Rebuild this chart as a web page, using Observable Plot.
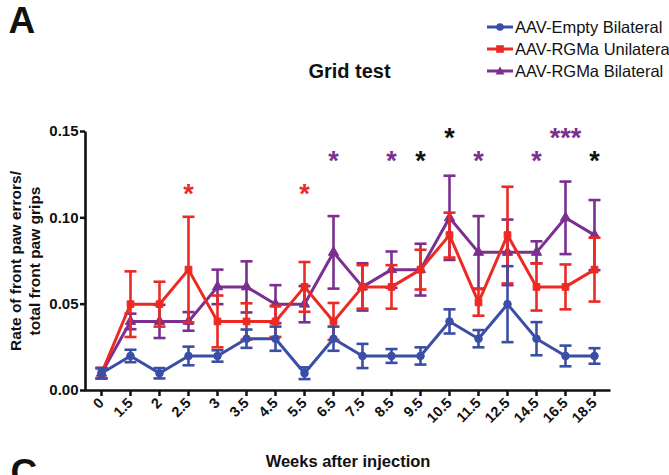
<!DOCTYPE html>
<html><head><meta charset="utf-8">
<script src="https://cdn.jsdelivr.net/npm/d3@7"></script>
<script src="https://cdn.jsdelivr.net/npm/@observablehq/plot@0.6"></script>
<style>
body{margin:0;background:#fff;width:669px;height:475px;overflow:hidden;font-family:"Liberation Sans",Arial,Helvetica,sans-serif;}
#wrap{position:relative;width:669px;height:475px;}
#legend{position:absolute;left:486px;top:16px;white-space:nowrap;}
.row{height:22px;display:flex;align-items:center;font-size:16.5px;color:#111;}
.row svg{margin-right:1px;flex:none;}
</style></head><body><div id="wrap"><div id="legend"></div></div>
<script>
// ---- data ----
const weeks = ["0","1.5","2","2.5","3","3.5","4.5","5.5","6.5","7.5","8.5","9.5","10.5","11.5","12.5","14.5","16.5","18.5"];
const seriesNames = ["AAV-Empty Bilateral","AAV-RGMa Unilateral","AAV-RGMa Bilateral"];
const emptyMean = [0.01,0.02,0.01,0.02,0.02,0.03,0.03,0.01,0.03,0.02,0.02,0.02,0.04,0.03,0.05,0.03,0.02,0.02];
const emptySem  = [0.003,0.0036,0.003,0.0054,0.0033,0.0053,0.007,0.0034,0.007,0.007,0.004,0.005,0.007,0.005,0.022,0.0096,0.006,0.0045];
const uniMean   = [0.01,0.05,0.05,0.07,0.04,0.04,0.04,0.06,0.04,0.06,0.06,0.07,0.09,0.051,0.09,0.06,0.06,0.07];
const uniSem    = [0.003,0.019,0.013,0.0306,0.015,0.0105,0.009,0.0144,0.0107,0.0126,0.0126,0.0115,0.013,0.0077,0.028,0.0137,0.013,0.0185];
const biMean    = [0.01,0.04,0.04,0.04,0.06,0.06,0.05,0.05,0.08,0.06,0.07,0.07,0.10,0.08,0.08,0.08,0.10,0.09];
const biSem     = [0.003,0.0045,0.0096,0.0054,0.010,0.0148,0.011,0.0105,0.021,0.0137,0.0105,0.015,0.0244,0.021,0.019,0.0064,0.021,0.0203];
const yTicks = [0, 0.05, 0.10, 0.15];
const starWeeks  = ["2.5","5.5","6.5","8.5","9.5","10.5","11.5","14.5","16.5","18.5"];
const starLabels = ["*","*","*","*","*","*","*","*","***","*"];
const starLevels = [0.1155,0.1155,0.1345,0.1345,0.1345,0.148,0.1345,0.1345,0.148,0.1345];
const starGroups = ["AAV-RGMa Unilateral","AAV-RGMa Unilateral","AAV-RGMa Bilateral","AAV-RGMa Bilateral","both","both","AAV-RGMa Bilateral","AAV-RGMa Bilateral","AAV-RGMa Bilateral","both"];
const titleText = "Grid test";
const xLabel = "Weeks after injection";
const yLabel = "Rate of front paw errors/\ntotal front paw grips";

// ---- styles ----
const colors = {"AAV-Empty Bilateral":"#3b4ea6","AAV-RGMa Unilateral":"#ec2a24","AAV-RGMa Bilateral":"#7b2f8f","both":"#111"};
const shapes = {"AAV-Empty Bilateral":"circle","AAV-RGMa Unilateral":"square","AAV-RGMa Bilateral":"triangle"};
const means = {"AAV-Empty Bilateral":emptyMean,"AAV-RGMa Unilateral":uniMean,"AAV-RGMa Bilateral":biMean};
const sems = {"AAV-Empty Bilateral":emptySem,"AAV-RGMa Unilateral":uniSem,"AAV-RGMa Bilateral":biSem};

const W=669,H=475,mL=85,mR=59,mT=131,mB=85;
const fw=W-mL-mR, fh=H-mT-mB;
const capSymbol = {draw(ctx,size){const w=Math.sqrt(size/Math.PI); ctx.moveTo(-w,0); ctx.lineTo(w,0);}};

const rowsOf = name => weeks.map((w,i)=>({week:w, mean:means[name][i], lo:means[name][i]-sems[name][i], hi:means[name][i]+sems[name][i]}));
const stars = starWeeks.map((w,i)=>({week:w, label:starLabels[i], level:starLevels[i], group:starGroups[i]}));

const seriesMarks = [];
for (const name of ["AAV-RGMa Bilateral","AAV-RGMa Unilateral","AAV-Empty Bilateral"]) {
  const rows = rowsOf(name), c = colors[name];
  seriesMarks.push(
    Plot.ruleX(rows,{x:"week",y1:"lo",y2:"hi",stroke:c,strokeWidth:2.6}),
    Plot.dot(rows,{x:"week",y:"hi",symbol:capSymbol,r:6,stroke:c,strokeWidth:2.6,fill:"none"}),
    Plot.dot(rows,{x:"week",y:"lo",symbol:capSymbol,r:6,stroke:c,strokeWidth:2.6,fill:"none"}),
    Plot.line(rows,{x:"week",y:"mean",stroke:c,strokeWidth:3}),
    Plot.dot(rows,{x:"week",y:"mean",symbol:shapes[name],r:3.8,fill:c,stroke:c,strokeWidth:1})
  );
}

const chart = Plot.plot({
  width:W, height:H, marginLeft:mL, marginRight:mR, marginTop:mT, marginBottom:mB,
  style:{fontFamily:'"Liberation Sans",Arial,Helvetica,sans-serif',color:"#111",background:"transparent",overflow:"visible"},
  x:{type:"point",domain:weeks,padding:0.5},
  y:{domain:[0,0.15]},
  marks:[
    Plot.frame({stroke:"#111",strokeWidth:2.6,strokeDasharray:`0,${fw+fh},${fw+fh}`}),
    Plot.axisY({ticks:yTicks,tickFormat:d3.format(".2f"),tickSize:5,tickPadding:2,fontSize:15,fontWeight:"bold",strokeWidth:2.5,label:null}),
    Plot.axisX({tickSize:6,tickPadding:4,tickRotate:-45,fontSize:14.5,fontWeight:"bold",strokeWidth:2.5,label:null}),
    ...seriesMarks,
    Plot.text(stars,{x:"week",y:"level",text:"label",fill:d=>colors[d.group],fontSize:27,fontWeight:"bold",lineAnchor:"bottom",dy:12}),
    Plot.text([yLabel],{text:d=>d,frameAnchor:"left",dx:-61.5,rotate:-90,fontSize:15.5,fontWeight:"bold",lineHeight:1.23,textAnchor:"middle",lineAnchor:"middle",fill:"#111"}),
    Plot.text([titleText],{text:d=>d,frameAnchor:"top-left",dx:264,dy:-54,lineAnchor:"bottom",textAnchor:"middle",fontSize:20,fontWeight:"bold",fill:"#111"}),
    Plot.text([xLabel],{text:d=>d,frameAnchor:"top-left",dx:262.5,dy:335,lineAnchor:"bottom",textAnchor:"middle",fontSize:16.5,fontWeight:"bold",fill:"#111"}),
    Plot.text(["A"],{text:d=>d,frameAnchor:"top-left",dx:-77,dy:-99,lineAnchor:"bottom",textAnchor:"start",fontSize:37,fontWeight:"bold",fill:"#111"}),
    Plot.text(["C"],{text:d=>d,frameAnchor:"top-left",dx:-75,dy:353,lineAnchor:"bottom",textAnchor:"start",fontSize:37,fontWeight:"bold",fill:"#111"})
  ]
});
document.getElementById("wrap").prepend(chart);

// legend
const legend = document.getElementById("legend");
const iconPath = {
  circle:'<circle cx="14" cy="11" r="3.8"/>',
  square:'<rect x="10.2" y="7.2" width="7.6" height="7.6"/>',
  triangle:'<path d="M14,6.5L18.5,14.5L9.5,14.5Z"/>'
};
for (const name of seriesNames) {
  const c = colors[name];
  const row = document.createElement("div");
  row.className = "row";
  row.innerHTML = `<svg width="28" height="22"><line x1="1" x2="27" y1="11" y2="11" stroke="${c}" stroke-width="3"/><g fill="${c}">${iconPath[shapes[name]]}</g></svg><span>${name}</span>`;
  legend.appendChild(row);
}
</script></body></html>
